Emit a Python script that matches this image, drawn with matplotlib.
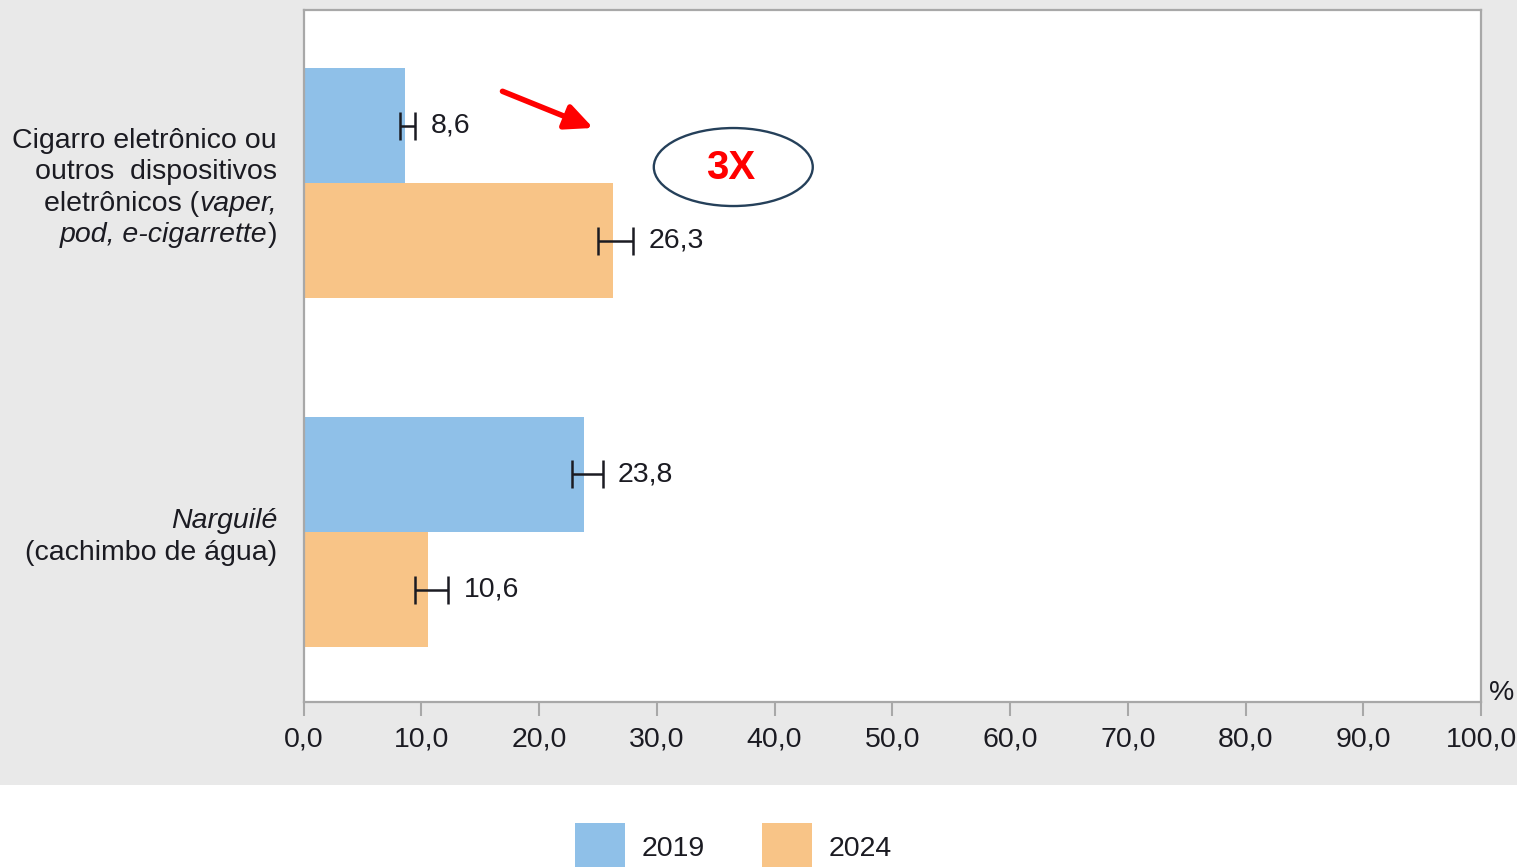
import matplotlib
matplotlib.use("Agg")
import matplotlib.pyplot as plt
from matplotlib.patches import Ellipse, Rectangle, Patch
from matplotlib.offsetbox import TextArea, HPacker, VPacker, AnnotationBbox

plt.rcParams['font.family'] = ['Liberation Sans', 'DejaVu Sans']

# categories from bottom to top
category_pos = [0, 1]
years = ['2019', '2024']
values_2019 = [23.8, 8.6]
values_2024 = [10.6, 26.3]
ci_low_2019 = [22.8, 8.2]
ci_high_2019 = [25.4, 9.5]
ci_low_2024 = [9.5, 25.0]
ci_high_2024 = [12.3, 28.0]
x_ticks = [0, 10, 20, 30, 40, 50, 60, 70, 80, 90, 100]

BLUE = '#8fc0e8'
ORANGE = '#f8c487'
GRAY_BG = '#e9e9e9'
SPINE = '#a8a8a8'
TXT = '#1b1b22'
FS = 20.5

fig = plt.figure(figsize=(15.17, 8.67), dpi=100, facecolor='white')
fig.patches.append(Rectangle((0, 1 - 785 / 867), 1, 785 / 867, transform=fig.transFigure,
                             facecolor=GRAY_BG, edgecolor='none', zorder=-10))
ax = fig.add_axes([303.5 / 1517, 1 - 702 / 867, (1481 - 303.5) / 1517, 692 / 867])
ax.set_facecolor('white')

h = 0.33
y19 = [p + h / 2 for p in category_pos]
y24 = [p - h / 2 for p in category_pos]
ax.barh(y19, values_2019, height=h, color=BLUE, zorder=2)
ax.barh(y24, values_2024, height=h, color=ORANGE, zorder=2)

# confidence intervals + value labels
for ys, vals, lo, hi in [(y19, values_2019, ci_low_2019, ci_high_2019),
                         (y24, values_2024, ci_low_2024, ci_high_2024)]:
    mid = [(a + b) / 2 for a, b in zip(lo, hi)]
    err = [[m - a for m, a in zip(mid, lo)], [b - m for m, b in zip(mid, hi)]]
    ax.errorbar(mid, ys, xerr=err, fmt='none', ecolor=TXT, elinewidth=1.8,
                capsize=10, capthick=1.8, zorder=3)
    for y, v, b in zip(ys, vals, hi):
        ax.annotate(f"{v:.1f}".replace('.', ','), xy=(b, y), xytext=(11, 0),
                    textcoords='offset points', va='center', ha='left',
                    fontsize=FS, color=TXT)

ax.set_xlim(0, 100)
ax.set_ylim(-0.487, 1.496)
ax.set_xticks(x_ticks)
ax.set_xticklabels([f"{t:.1f}".replace('.', ',') for t in x_ticks], fontsize=FS, color=TXT)
ax.set_yticks([])
ax.tick_params(axis='x', length=10, width=1.5, color=SPINE, pad=8)
for s in ax.spines.values():
    s.set_color(SPINE)
    s.set_linewidth(1.6)

ax.annotate('%', xy=(1, 0), xycoords='axes fraction', xytext=(6, -3),
            textcoords='offset points', ha='left', va='bottom', fontsize=FS, color=TXT)


# category labels with mixed italic text
def line(parts):
    return HPacker(children=[TextArea(t, textprops=dict(fontsize=FS, style=st, color=TXT))
                             for t, st in parts], pad=0, sep=0, align='baseline')


label_ecig = VPacker(children=[
    line([('Cigarro eletrônico ou', 'normal')]),
    line([('outros  dispositivos', 'normal')]),
    line([('eletrônicos (', 'normal'), ('vaper,', 'italic')]),
    line([('pod, e-cigarrette', 'italic'), (')', 'normal')]),
], align='right', pad=0, sep=4)
label_narg = VPacker(children=[
    line([('Narguilé', 'italic')]),
    line([('(cachimbo de água)', 'normal')]),
], align='right', pad=0, sep=4)
for box, y in [(label_narg, category_pos[0]), (label_ecig, category_pos[1])]:
    ab = AnnotationBbox(box, xy=(0, y), xycoords=('axes fraction', 'data'),
                        xybox=(-19, -3.5), boxcoords='offset points',
                        box_alignment=(1, 0.5), frameon=False, annotation_clip=False)
    ax.add_artist(ab)

# highlight: arrow, ellipse and "3X"
ax.annotate('', xy=(24.6, 1.158), xytext=(16.9, 1.263),
            arrowprops=dict(arrowstyle='-|>,head_length=0.75,head_width=0.35',
                            color='#ff0000', lw=4, mutation_scale=22, shrinkA=0, shrinkB=0))
ax.add_patch(Ellipse((36.5, 1.046), 13.5, 0.2235, fill=False, edgecolor='#25405a', lw=1.7))
ax.text(36.3, 1.043, '3X', ha='center', va='center', fontsize=29, fontweight='bold',
        color='#ff0000')

handles = [Patch(facecolor=BLUE, edgecolor='none'), Patch(facecolor=ORANGE, edgecolor='none')]
fig.legend(handles, years, loc='upper left', bbox_to_anchor=(575 / 1517, 1 - 823 / 867),
           ncol=2, frameon=False, fontsize=FS, handlelength=1.75, handleheight=2.2,
           handletextpad=0.6, columnspacing=2.0, borderpad=0, borderaxespad=0,
           labelcolor=TXT)

fig.savefig('out.png', dpi=100, facecolor='white')
